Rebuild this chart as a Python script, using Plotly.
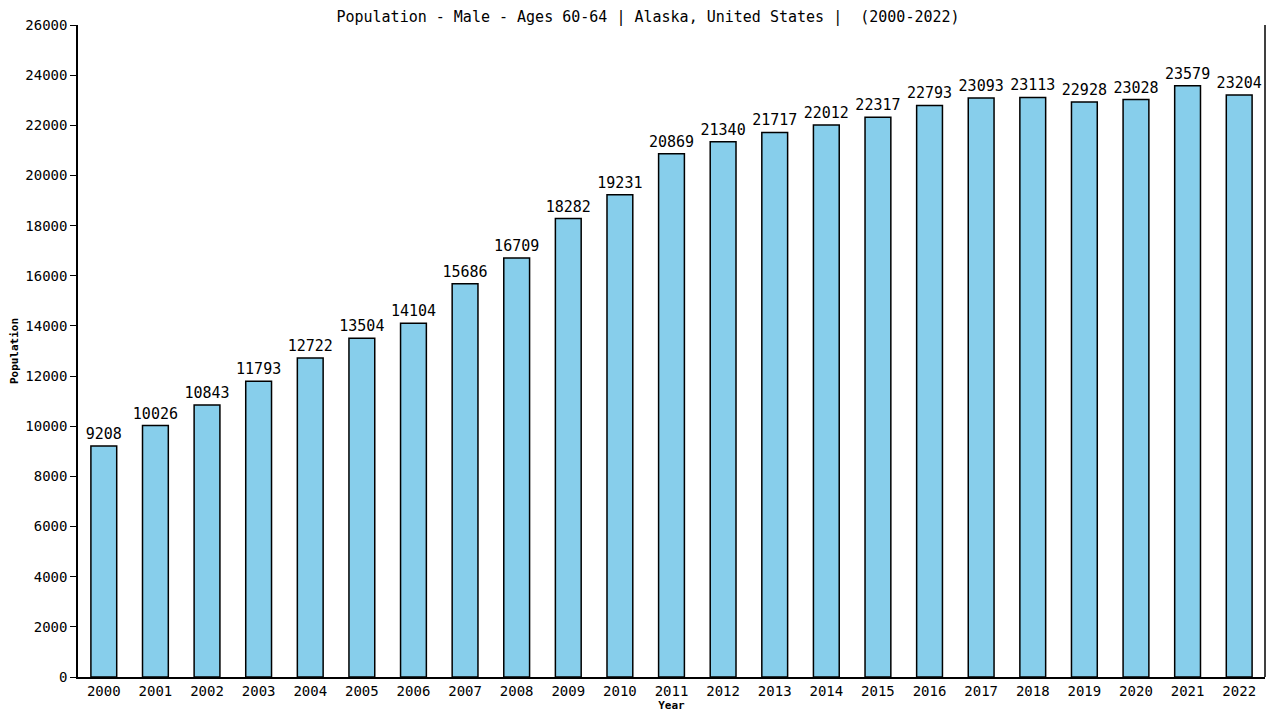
import plotly.graph_objects as go

years = [str(y) for y in range(2000, 2023)]
population = [9208, 10026, 10843, 11793, 12722, 13504, 14104, 15686, 16709, 18282, 19231,
              20869, 21340, 21717, 22012, 22317, 22793, 23093, 23113, 22928, 23028, 23579, 23204]
y_ticks = list(range(0, 26001, 2000))
y_tick_labels = [str(v) for v in y_ticks]

fnt = "DejaVu Sans Mono"
fig = go.Figure(go.Bar(
    x=years, y=population, width=0.5,
    marker=dict(color="#87CEEB", line=dict(color="black", width=1.5)),
    text=[str(v) for v in population], textposition="outside", textangle=0,
    constraintext="none",
    textfont=dict(family=fnt, size=15, color="black"), cliponaxis=False,
))
fig.update_layout(
    width=1280, height=720, plot_bgcolor="white", paper_bgcolor="white",
    margin=dict(l=70, r=23, t=17, b=51, autoexpand=False),
    title=dict(text="Population - Male - Ages 60-64 | Alaska, United States |  (2000-2022)",
               x=0.5, xanchor="center", y=0.995, yanchor="top", pad=dict(t=0),
               font=dict(family=fnt, size=15, color="black")),
    font=dict(family=fnt, size=14, color="black"),
    showlegend=False,
    xaxis=dict(title=dict(text="<b>Year</b>", font=dict(size=11), standoff=2),
               showline=True, linecolor="black", linewidth=1.5, mirror=False,
               showgrid=False, ticks="", tickfont=dict(size=14), automargin=False),
    yaxis=dict(title=dict(text="<b>Population</b>", font=dict(size=11), standoff=16),
               range=[0, 26000], tickvals=y_ticks, ticktext=y_tick_labels,
               showline=True, linecolor="black",
               linewidth=1.5, showgrid=False, ticks="outside", ticklen=6,
               tickcolor="black", zeroline=False, tickfont=dict(size=14), automargin=False),
)
fig.add_shape(type="line", xref="paper", yref="paper", x0=1, x1=1, y0=0, y1=1,
              line=dict(color="black", width=1.5))
fig.write_html("out.html")
